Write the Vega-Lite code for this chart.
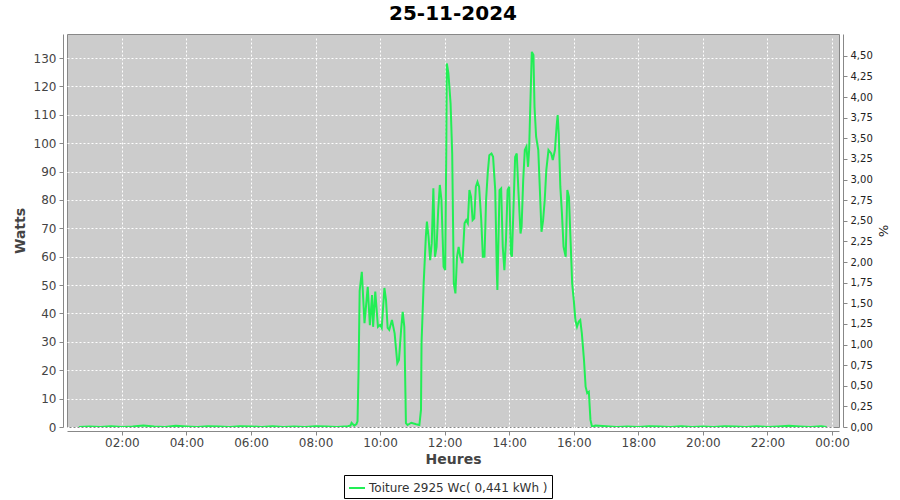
{
  "$schema": "https://vega.github.io/schema/vega-lite/v6.json",
  "autosize": {"type": "none"},
  "width": 772,
  "height": 393,
  "padding": {"left": 67, "top": 34, "right": 61, "bottom": 73},
  "background": "#ffffff",
  "title": {"text": "25-11-2024", "fontSize": 20, "fontWeight": "bold", "color": "#000000", "offset": 10},
  "data": {"values": [
    {"Heure": "2024-11-25T00:40", "Watts": 0},
    {"Heure": "2024-11-25T01:00", "Watts": 0.2},
    {"Heure": "2024-11-25T01:20", "Watts": 0},
    {"Heure": "2024-11-25T01:40", "Watts": 0.3},
    {"Heure": "2024-11-25T02:00", "Watts": 0},
    {"Heure": "2024-11-25T02:20", "Watts": 0.2},
    {"Heure": "2024-11-25T02:40", "Watts": 0.5},
    {"Heure": "2024-11-25T03:00", "Watts": 0.2},
    {"Heure": "2024-11-25T03:20", "Watts": 0},
    {"Heure": "2024-11-25T03:40", "Watts": 0.4},
    {"Heure": "2024-11-25T04:00", "Watts": 0.2},
    {"Heure": "2024-11-25T04:20", "Watts": 0},
    {"Heure": "2024-11-25T04:40", "Watts": 0.3},
    {"Heure": "2024-11-25T05:00", "Watts": 0.2},
    {"Heure": "2024-11-25T05:20", "Watts": 0},
    {"Heure": "2024-11-25T05:40", "Watts": 0.3},
    {"Heure": "2024-11-25T06:00", "Watts": 0.2},
    {"Heure": "2024-11-25T06:20", "Watts": 0},
    {"Heure": "2024-11-25T06:40", "Watts": 0.3},
    {"Heure": "2024-11-25T07:00", "Watts": 0},
    {"Heure": "2024-11-25T07:20", "Watts": 0.2},
    {"Heure": "2024-11-25T07:40", "Watts": 0},
    {"Heure": "2024-11-25T08:00", "Watts": 0.3},
    {"Heure": "2024-11-25T08:20", "Watts": 0.2},
    {"Heure": "2024-11-25T08:40", "Watts": 0},
    {"Heure": "2024-11-25T09:00", "Watts": 0.3},
    {"Heure": "2024-11-25T09:05", "Watts": 0.5},
    {"Heure": "2024-11-25T09:07", "Watts": 1.5},
    {"Heure": "2024-11-25T09:12", "Watts": 0.5},
    {"Heure": "2024-11-25T09:16", "Watts": 1},
    {"Heure": "2024-11-25T09:18", "Watts": 2},
    {"Heure": "2024-11-25T09:20", "Watts": 20},
    {"Heure": "2024-11-25T09:22", "Watts": 48},
    {"Heure": "2024-11-25T09:26", "Watts": 54.7},
    {"Heure": "2024-11-25T09:31", "Watts": 36.6},
    {"Heure": "2024-11-25T09:37", "Watts": 49.4},
    {"Heure": "2024-11-25T09:41", "Watts": 35.9},
    {"Heure": "2024-11-25T09:45", "Watts": 46.5},
    {"Heure": "2024-11-25T09:47", "Watts": 35.3},
    {"Heure": "2024-11-25T09:51", "Watts": 47.7},
    {"Heure": "2024-11-25T09:56", "Watts": 35.3},
    {"Heure": "2024-11-25T10:00", "Watts": 36},
    {"Heure": "2024-11-25T10:03", "Watts": 34.9},
    {"Heure": "2024-11-25T10:08", "Watts": 49},
    {"Heure": "2024-11-25T10:11", "Watts": 44.7},
    {"Heure": "2024-11-25T10:14", "Watts": 34.9},
    {"Heure": "2024-11-25T10:17", "Watts": 34.2},
    {"Heure": "2024-11-25T10:22", "Watts": 37.7},
    {"Heure": "2024-11-25T10:27", "Watts": 33},
    {"Heure": "2024-11-25T10:32", "Watts": 22.5},
    {"Heure": "2024-11-25T10:35", "Watts": 23.6},
    {"Heure": "2024-11-25T10:39", "Watts": 34.2},
    {"Heure": "2024-11-25T10:42", "Watts": 40.6},
    {"Heure": "2024-11-25T10:45", "Watts": 35.3},
    {"Heure": "2024-11-25T10:48", "Watts": 1.4},
    {"Heure": "2024-11-25T10:51", "Watts": 0.7},
    {"Heure": "2024-11-25T10:58", "Watts": 1.5},
    {"Heure": "2024-11-25T11:07", "Watts": 1},
    {"Heure": "2024-11-25T11:13", "Watts": 0.7},
    {"Heure": "2024-11-25T11:16", "Watts": 6},
    {"Heure": "2024-11-25T11:17", "Watts": 29.6},
    {"Heure": "2024-11-25T11:21", "Watts": 50.7},
    {"Heure": "2024-11-25T11:25", "Watts": 67},
    {"Heure": "2024-11-25T11:27", "Watts": 72.4},
    {"Heure": "2024-11-25T11:30", "Watts": 67},
    {"Heure": "2024-11-25T11:33", "Watts": 58.8},
    {"Heure": "2024-11-25T11:36", "Watts": 64.8},
    {"Heure": "2024-11-25T11:39", "Watts": 84.1},
    {"Heure": "2024-11-25T11:42", "Watts": 60},
    {"Heure": "2024-11-25T11:45", "Watts": 63.5},
    {"Heure": "2024-11-25T11:48", "Watts": 76.5},
    {"Heure": "2024-11-25T11:51", "Watts": 85.3},
    {"Heure": "2024-11-25T11:54", "Watts": 80},
    {"Heure": "2024-11-25T11:58", "Watts": 56.5},
    {"Heure": "2024-11-25T12:01", "Watts": 55.3},
    {"Heure": "2024-11-25T12:03", "Watts": 97.6},
    {"Heure": "2024-11-25T12:04", "Watts": 128.1},
    {"Heure": "2024-11-25T12:07", "Watts": 124.6},
    {"Heure": "2024-11-25T12:11", "Watts": 114},
    {"Heure": "2024-11-25T12:14", "Watts": 96.4},
    {"Heure": "2024-11-25T12:17", "Watts": 50.6},
    {"Heure": "2024-11-25T12:20", "Watts": 47.1},
    {"Heure": "2024-11-25T12:23", "Watts": 60},
    {"Heure": "2024-11-25T12:26", "Watts": 63.5},
    {"Heure": "2024-11-25T12:29", "Watts": 60},
    {"Heure": "2024-11-25T12:33", "Watts": 57.7},
    {"Heure": "2024-11-25T12:37", "Watts": 71.8},
    {"Heure": "2024-11-25T12:40", "Watts": 72.9},
    {"Heure": "2024-11-25T12:43", "Watts": 71.8},
    {"Heure": "2024-11-25T12:46", "Watts": 83.5},
    {"Heure": "2024-11-25T12:49", "Watts": 81.1},
    {"Heure": "2024-11-25T12:52", "Watts": 72.9},
    {"Heure": "2024-11-25T12:55", "Watts": 73.5},
    {"Heure": "2024-11-25T12:58", "Watts": 84.7},
    {"Heure": "2024-11-25T13:01", "Watts": 86.4},
    {"Heure": "2024-11-25T13:04", "Watts": 84.7},
    {"Heure": "2024-11-25T13:08", "Watts": 72.9},
    {"Heure": "2024-11-25T13:11", "Watts": 60},
    {"Heure": "2024-11-25T13:14", "Watts": 60},
    {"Heure": "2024-11-25T13:17", "Watts": 80},
    {"Heure": "2024-11-25T13:20", "Watts": 89.4},
    {"Heure": "2024-11-25T13:23", "Watts": 95.8},
    {"Heure": "2024-11-25T13:27", "Watts": 96.4},
    {"Heure": "2024-11-25T13:30", "Watts": 95.2},
    {"Heure": "2024-11-25T13:34", "Watts": 83.5},
    {"Heure": "2024-11-25T13:37", "Watts": 54.2},
    {"Heure": "2024-11-25T13:38", "Watts": 48.3},
    {"Heure": "2024-11-25T13:42", "Watts": 83.5},
    {"Heure": "2024-11-25T13:45", "Watts": 84.1},
    {"Heure": "2024-11-25T13:48", "Watts": 63.5},
    {"Heure": "2024-11-25T13:51", "Watts": 55.3},
    {"Heure": "2024-11-25T13:54", "Watts": 65.9},
    {"Heure": "2024-11-25T13:57", "Watts": 83.5},
    {"Heure": "2024-11-25T14:00", "Watts": 84.7},
    {"Heure": "2024-11-25T14:03", "Watts": 61.2},
    {"Heure": "2024-11-25T14:05", "Watts": 60},
    {"Heure": "2024-11-25T14:08", "Watts": 77.6},
    {"Heure": "2024-11-25T14:11", "Watts": 95.2},
    {"Heure": "2024-11-25T14:14", "Watts": 96.4},
    {"Heure": "2024-11-25T14:17", "Watts": 83.5},
    {"Heure": "2024-11-25T14:21", "Watts": 68.2},
    {"Heure": "2024-11-25T14:23", "Watts": 70.6},
    {"Heure": "2024-11-25T14:26", "Watts": 87},
    {"Heure": "2024-11-25T14:29", "Watts": 97.6},
    {"Heure": "2024-11-25T14:32", "Watts": 98.8},
    {"Heure": "2024-11-25T14:35", "Watts": 91.7},
    {"Heure": "2024-11-25T14:37", "Watts": 97.6},
    {"Heure": "2024-11-25T14:40", "Watts": 118.7},
    {"Heure": "2024-11-25T14:42", "Watts": 132.2},
    {"Heure": "2024-11-25T14:45", "Watts": 131.1},
    {"Heure": "2024-11-25T14:47", "Watts": 112.9},
    {"Heure": "2024-11-25T14:50", "Watts": 102.3},
    {"Heure": "2024-11-25T14:54", "Watts": 97.6},
    {"Heure": "2024-11-25T14:57", "Watts": 83.5},
    {"Heure": "2024-11-25T15:00", "Watts": 68.8},
    {"Heure": "2024-11-25T15:03", "Watts": 72.9},
    {"Heure": "2024-11-25T15:06", "Watts": 80},
    {"Heure": "2024-11-25T15:09", "Watts": 90.6},
    {"Heure": "2024-11-25T15:13", "Watts": 97.6},
    {"Heure": "2024-11-25T15:18", "Watts": 96.4},
    {"Heure": "2024-11-25T15:21", "Watts": 94.1},
    {"Heure": "2024-11-25T15:25", "Watts": 97.6},
    {"Heure": "2024-11-25T15:28", "Watts": 105.8},
    {"Heure": "2024-11-25T15:30", "Watts": 109.9},
    {"Heure": "2024-11-25T15:32", "Watts": 103.5},
    {"Heure": "2024-11-25T15:35", "Watts": 84.7},
    {"Heure": "2024-11-25T15:38", "Watts": 75.3},
    {"Heure": "2024-11-25T15:41", "Watts": 63.5},
    {"Heure": "2024-11-25T15:45", "Watts": 60},
    {"Heure": "2024-11-25T15:48", "Watts": 83.5},
    {"Heure": "2024-11-25T15:51", "Watts": 81.1},
    {"Heure": "2024-11-25T15:54", "Watts": 65.9},
    {"Heure": "2024-11-25T15:57", "Watts": 50.6},
    {"Heure": "2024-11-25T16:00", "Watts": 44.7},
    {"Heure": "2024-11-25T16:03", "Watts": 37.7},
    {"Heure": "2024-11-25T16:06", "Watts": 35.3},
    {"Heure": "2024-11-25T16:09", "Watts": 37.1},
    {"Heure": "2024-11-25T16:12", "Watts": 37.7},
    {"Heure": "2024-11-25T16:15", "Watts": 33},
    {"Heure": "2024-11-25T16:19", "Watts": 23.6},
    {"Heure": "2024-11-25T16:22", "Watts": 14.2},
    {"Heure": "2024-11-25T16:25", "Watts": 11.9},
    {"Heure": "2024-11-25T16:28", "Watts": 12.4},
    {"Heure": "2024-11-25T16:31", "Watts": 2.5},
    {"Heure": "2024-11-25T16:34", "Watts": 0},
    {"Heure": "2024-11-25T16:40", "Watts": 0.5},
    {"Heure": "2024-11-25T17:00", "Watts": 0.3},
    {"Heure": "2024-11-25T17:20", "Watts": 0},
    {"Heure": "2024-11-25T17:40", "Watts": 0.2},
    {"Heure": "2024-11-25T18:00", "Watts": 0},
    {"Heure": "2024-11-25T18:20", "Watts": 0.3},
    {"Heure": "2024-11-25T18:40", "Watts": 0.2},
    {"Heure": "2024-11-25T19:00", "Watts": 0},
    {"Heure": "2024-11-25T19:20", "Watts": 0.3},
    {"Heure": "2024-11-25T19:40", "Watts": 0},
    {"Heure": "2024-11-25T20:00", "Watts": 0.2},
    {"Heure": "2024-11-25T20:20", "Watts": 0},
    {"Heure": "2024-11-25T20:40", "Watts": 0.3},
    {"Heure": "2024-11-25T21:00", "Watts": 0.2},
    {"Heure": "2024-11-25T21:20", "Watts": 0},
    {"Heure": "2024-11-25T21:40", "Watts": 0.3},
    {"Heure": "2024-11-25T22:00", "Watts": 0},
    {"Heure": "2024-11-25T22:20", "Watts": 0.2},
    {"Heure": "2024-11-25T22:40", "Watts": 0.4},
    {"Heure": "2024-11-25T23:00", "Watts": 0.2},
    {"Heure": "2024-11-25T23:20", "Watts": 0},
    {"Heure": "2024-11-25T23:40", "Watts": 0.3},
    {"Heure": "2024-11-25T23:50", "Watts": 0}
  ]},
  "encoding": {
    "x": {
      "field": "Heure", "type": "temporal", "title": "Heures",
      "scale": {"domain": [
        {"year": 2024, "month": 11, "date": 25, "hours": 0, "minutes": 18},
        {"year": 2024, "month": 11, "date": 26, "hours": 0, "minutes": 13}
      ], "nice": false},
      "axis": {
        "format": "%H:%M",
        "values": [
          {"year": 2024, "month": 11, "date": 25, "hours": 2},
          {"year": 2024, "month": 11, "date": 25, "hours": 4},
          {"year": 2024, "month": 11, "date": 25, "hours": 6},
          {"year": 2024, "month": 11, "date": 25, "hours": 8},
          {"year": 2024, "month": 11, "date": 25, "hours": 10},
          {"year": 2024, "month": 11, "date": 25, "hours": 12},
          {"year": 2024, "month": 11, "date": 25, "hours": 14},
          {"year": 2024, "month": 11, "date": 25, "hours": 16},
          {"year": 2024, "month": 11, "date": 25, "hours": 18},
          {"year": 2024, "month": 11, "date": 25, "hours": 20},
          {"year": 2024, "month": 11, "date": 25, "hours": 22},
          {"year": 2024, "month": 11, "date": 26, "hours": 0}
        ],
        "labelPadding": 2, "titlePadding": 4
      }
    }
  },
  "layer": [
    {
      "mark": {"type": "line", "strokeWidth": 2, "clip": true},
      "encoding": {
        "y": {
          "field": "Watts", "type": "quantitative", "title": "Watts",
          "scale": {"domain": [0, 138.5], "nice": false},
          "axis": {"values": [0, 10, 20, 30, 40, 50, 60, 70, 80, 90, 100, 110, 120, 130], "labelPadding": 3, "titlePadding": 6}
        },
        "color": {
          "datum": "Toiture 2925 Wc( 0,441 kWh )",
          "scale": {"range": ["#22ee55"]},
          "legend": {
            "title": null, "orient": "none", "legendX": 277, "legendY": 441,
            "strokeColor": "#000000", "fillColor": "#ffffff", "padding": 4,
            "symbolType": "stroke", "symbolSize": 256, "symbolStrokeWidth": 2,
            "labelFontSize": 12, "labelColor": "#333333", "labelOffset": 3, "labelLimit": 400
          }
        }
      }
    },
    {
      "mark": {"type": "line", "opacity": 0, "clip": true},
      "encoding": {
        "y": {
          "field": "Watts", "type": "quantitative", "title": "%",
          "scale": {"domain": [0, 4.764], "nice": false},
          "axis": {
            "orient": "right", "grid": false, "format": ".2f",
            "values": [0, 0.25, 0.5, 0.75, 1, 1.25, 1.5, 1.75, 2, 2.25, 2.5, 2.75, 3, 3.25, 3.5, 3.75, 4, 4.25, 4.5],
            "labelFontSize": 10, "labelColor": "#222222", "labelPadding": 3,
            "titleFontWeight": "normal", "titleFontSize": 13, "titleColor": "#222222", "titlePadding": 3
          }
        }
      }
    }
  ],
  "resolve": {"scale": {"y": "independent"}},
  "config": {
    "locale": {"number": {"decimal": ",", "thousands": " ", "grouping": [3], "currency": ["", " €"]}},
    "font": "DejaVu Sans",
    "view": {"fill": "#cccccc", "stroke": "#888888", "strokeWidth": 1},
    "axis": {
      "labelFont": "DejaVu Sans", "labelFontSize": 12, "labelColor": "#444444",
      "titleFont": "DejaVu Sans", "titleFontSize": 14, "titleFontWeight": "bold", "titleColor": "#444444",
      "domainColor": "#888888", "tickColor": "#888888", "tickSize": 4, "offset": 4,
      "gridColor": "#ffffff", "gridDash": [2, 2], "gridWidth": 1, "gridOpacity": 1
    }
  }
}
